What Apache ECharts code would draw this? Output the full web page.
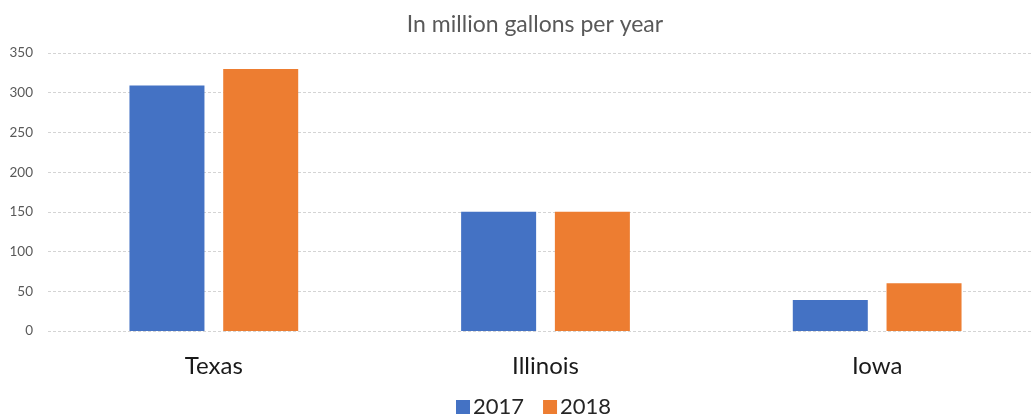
<!DOCTYPE html>
<html><head><meta charset="utf-8">
<script src="https://cdn.jsdelivr.net/npm/echarts@6/dist/echarts.min.js"></script>
<style>html,body{margin:0;padding:0;background:#fff;overflow:hidden;width:1032px;height:418px}#c{width:1043px;height:418px}</style>
</head><body><div id="c"></div>
<script>
const categories = ["Texas", "Illinois", "Iowa"];
const seriesNames = ["2017", "2018"];
const values2017 = [309, 150, 39];
const values2018 = [330, 150, 60];
const titleText = "In million gallons per year";

const chart = echarts.init(document.getElementById('c'), null, {renderer: 'canvas'});
const font = "Lato, sans-serif";
chart.setOption({
  animation: false,
  backgroundColor: '#ffffff',
  color: ['#4472C4', '#ED7D31'],
  title: {
    text: titleText, left: 530, textAlign: 'center', top: 8,
    textStyle: {fontFamily: font, fontSize: 23, fontWeight: 'normal', color: '#595959'}
  },
  legend: {
    data: seriesNames, left: 451, top: 391, itemWidth: 14, itemHeight: 14, itemGap: 19,
    icon: 'rect',
    textStyle: {fontFamily: font, fontSize: 22, color: '#262626', padding: [0,0,0,-2]}
  },
  grid: {left: 48, top: 53, right: 0, height: 278, containLabel: false},
  xAxis: {
    type: 'category', data: categories,
    axisLine: {show: false}, axisTick: {show: false},
    axisLabel: {fontFamily: font, fontSize: 24, color: '#1a1a1a', margin: 23}
  },
  yAxis: {
    type: 'value', min: 0, max: 350, interval: 50,
    axisLine: {show: false}, axisTick: {show: false},
    axisLabel: {fontFamily: font, fontSize: 13.5, color: '#595959', margin: 15},
    splitLine: {lineStyle: {color: '#d4d4d4', type: [3, 2], width: 1}}
  },
  series: [
    {name: seriesNames[0], type: 'bar', data: values2017, barWidth: 75, barGap: '25%'},
    {name: seriesNames[1], type: 'bar', data: values2018, barWidth: 75, barGap: '25%'}
  ]
});
</script></body></html>
